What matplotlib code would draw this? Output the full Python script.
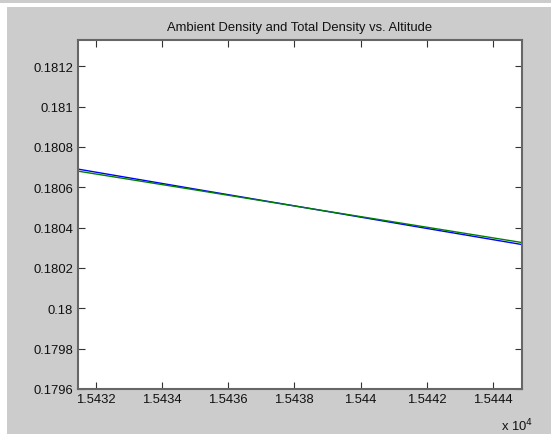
import matplotlib
matplotlib.use("Agg")
import matplotlib.pyplot as plt
from matplotlib.patches import Rectangle
from matplotlib.ticker import FuncFormatter, FixedLocator

plt.rcParams['font.family'] = ['Liberation Sans', 'DejaVu Sans']

# Data (altitude in m, density)
altitude = [15431.46, 15435.0, 15438.5, 15442.0, 15444.88]
ambient_density = [0.18069, 0.180591, 0.180494, 0.180396, 0.180316]
total_density = [0.18068, 0.180587, 0.180494, 0.180402, 0.180326]

x_ticks = [15432, 15434, 15436, 15438, 15440, 15442, 15444]
y_ticks = [0.1796, 0.1798, 0.1800, 0.1802, 0.1804, 0.1806, 0.1808, 0.1810, 0.1812]

W, H = 551, 435
fig = plt.figure(figsize=(W / 100, H / 100), dpi=100)
fig.patch.set_facecolor('#cccccc')

# window-like white borders
fig.patches.append(Rectangle((0, 1 - 8 / H), 1, 4 / H, transform=fig.transFigure,
                             facecolor='white', edgecolor='none', zorder=0))
fig.patches.append(Rectangle((0, 0), 7 / W, 1 - 8 / H, transform=fig.transFigure,
                             facecolor='white', edgecolor='none', zorder=0))

ax = fig.add_axes([78 / W, 1 - 390 / H, (522 - 78) / W, (390 - 41) / H])
ax.set_facecolor('white')

ax.plot(altitude, ambient_density, color=(0, 0, 1), lw=1.0)
ax.plot(altitude, total_density, color=(0, 0.5, 0), lw=1.0)

ax.set_xlim(15431.46, 15444.88)
ax.set_ylim(0.1796, 0.18133)

ax.xaxis.set_major_locator(FixedLocator(x_ticks))
ax.yaxis.set_major_locator(FixedLocator(y_ticks))
ax.xaxis.set_major_formatter(FuncFormatter(lambda v, p: f'{v / 1e4:g}'))
ax.yaxis.set_major_formatter(FuncFormatter(lambda v, p: f'{v:g}'))

ax.tick_params(direction='in', length=5, width=0.8, color='#333333',
               top=True, right=True, labelsize=9.4, labelcolor='#111111')
ax.tick_params(axis='x', pad=3)
ax.tick_params(axis='y', pad=3.5)
for s in ax.spines.values():
    s.set_color('#666666')
    s.set_linewidth(1.5)

ax.set_title('Ambient Density and Total Density vs. Altitude', fontsize=9.4,
             color='#111111', pad=7)

fig.text(533 / W, 1 - 431 / H, r'x 10$^{4}$', ha='right', va='baseline',
         fontsize=9.4, color='#111111')

fig.savefig('out.png', dpi=100, facecolor=fig.get_facecolor())
